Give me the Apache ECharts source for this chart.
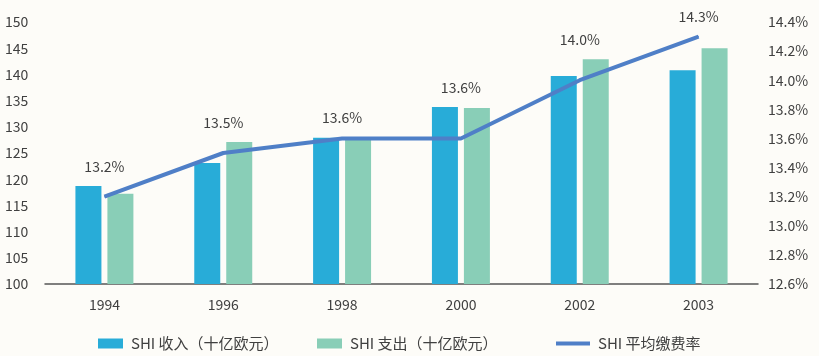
<!DOCTYPE html>
<html><head><meta charset="utf-8">
<script src="https://cdn.jsdelivr.net/npm/echarts@6/dist/echarts.min.js"></script>
<style>html,body{margin:0;padding:0;background:#fdfcf8;}#c{width:819px;height:356px;}</style>
</head><body><div id="c"></div>
<script>
const categories = ['1994','1996','1998','2000','2002','2003'];
const income = [118.7, 123.1, 127.9, 133.8, 139.7, 140.8];
const expense = [117.2, 127.1, 128.0, 133.6, 142.9, 145.0];
const rate = [13.2, 13.5, 13.6, 13.6, 14.0, 14.3];
const names = ['SHI 收入（十亿欧元）', 'SHI 支出（十亿欧元）', 'SHI 平均缴费率'];

const font = '"Noto Sans CJK SC", "Noto Sans", sans-serif';
const textColor = '#404040';
const lineColor = '#4f7fc7';
const chart = echarts.init(document.getElementById('c'));
function legendBox(name, left, w, h) {
  return {
    top: 331, left: left, itemWidth: w, itemHeight: h, itemGap: 0,
    icon: 'rect',
    textStyle: {fontFamily: font, fontSize: 15, color: textColor, padding: [0, 0, 0, 3]},
    data: [{name: name, icon: 'rect'}]
  };
}
function build(offsets) {
  return {
    backgroundColor: '#fdfcf8',
    animation: false,
    textStyle: {fontFamily: font},
    grid: {left: 45, right: 61, top: 22, bottom: 72},
    legend: [
      legendBox(names[0], 93, 25, 10),
      legendBox(names[1], 312, 25, 10),
      legendBox(names[2], 551, 34, 4)
    ],
    xAxis: {
      type: 'category', data: categories,
      axisLine: {lineStyle: {color: '#555', width: 1.5}},
      axisTick: {show: false},
      axisLabel: {fontFamily: font, fontSize: 14, color: textColor, margin: 14}
    },
    yAxis: [
      {type: 'value', min: 100, max: 150, interval: 5,
       axisLabel: {fontFamily: font, fontSize: 14, color: textColor, margin: 40, align: 'left'},
       splitLine: {show: false}, axisLine: {show: false}, axisTick: {show: false}},
      {type: 'value', min: 12.6, max: 14.4, interval: 0.2,
       axisLabel: {fontFamily: font, fontSize: 14, color: textColor, margin: 10,
         formatter: v => v.toFixed(1) + '%'},
       splitLine: {show: false}, axisLine: {show: false}, axisTick: {show: false}}
    ],
    series: [
      {name: names[0], type: 'bar', data: income, barWidth: 26, barGap: '23%',
       itemStyle: {color: '#28acd8'}},
      {name: names[1], type: 'bar', data: expense, barWidth: 26,
       itemStyle: {color: '#89ceb7'}},
      {name: names[2], type: 'line', yAxisIndex: 1, data: rate.map((v, i) => ({
          value: v,
          label: {offset: [0, offsets ? offsets[i] : 0]}
        })),
       symbol: 'circle', symbolSize: 1, showSymbol: true,
       lineStyle: {color: lineColor, width: 4}, itemStyle: {color: lineColor},
       label: {show: true, position: 'top', distance: 12, fontFamily: font, fontSize: 14,
         color: textColor, formatter: p => p.value.toFixed(1) + '%'}}
    ]
  };
}
chart.setOption(build(null));
const offsets = categories.map((c, i) => {
  const ly = chart.convertToPixel({xAxisIndex: 0, yAxisIndex: 1}, [i, rate[i]])[1];
  const b1 = chart.convertToPixel({xAxisIndex: 0, yAxisIndex: 0}, [i, income[i]])[1];
  const b2 = chart.convertToPixel({xAxisIndex: 0, yAxisIndex: 0}, [i, expense[i]])[1];
  const top = Math.min(ly, b1, b2);
  return top - ly;
});
chart.setOption(build(offsets));
</script></body></html>
